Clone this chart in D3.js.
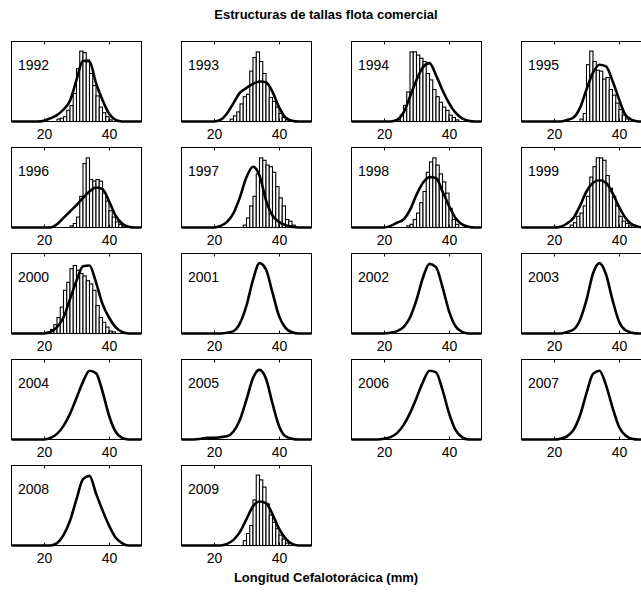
<!DOCTYPE html>
<html><head><meta charset="utf-8">
<script src="https://cdn.jsdelivr.net/npm/d3@7"></script>
<style>body{margin:0;background:#fff}svg{display:block}text{font-family:"Liberation Sans",Arial,sans-serif}</style>
</head><body><svg id="c" width="641" height="599"></svg>
<script>
const title = "Estructuras de tallas flota comercial";
const xLabel = "Longitud Cefalotorácica (mm)";
const years = [1992,1993,1994,1995,1996,1997,1998,1999,2000,2001,2002,2003,2004,2005,2006,2007,2008,2009];
const xTicks = [20, 40];
const curveX = [10,12,14,16,18,20,22,24,26,28,30,32,34,36,38,40,42,44,46,48,50];
const curveValues = [
  [0,0,0,0,0,0.01,0.04,0.08,0.15,0.26,0.52,0.76,0.75,0.48,0.27,0.1,0.02,0,0,0,0],
  [0,0,0,0,0,0,0.02,0.1,0.23,0.36,0.42,0.47,0.5,0.49,0.37,0.18,0.05,0.01,0,0,0],
  [0,0,0,0,0,0,0,0.02,0.11,0.31,0.52,0.68,0.73,0.58,0.39,0.23,0.11,0.04,0.01,0,0],
  [0,0,0,0,0,0,0,0.02,0.05,0.17,0.4,0.61,0.71,0.69,0.51,0.28,0.08,0.02,0,0,0],
  [0,0,0,0,0,0,0,0.04,0.12,0.2,0.28,0.37,0.45,0.5,0.48,0.33,0.15,0.05,0.01,0,0],
  [0,0,0,0,0,0,0.02,0.07,0.18,0.38,0.63,0.76,0.65,0.34,0.15,0.07,0.03,0.01,0,0,0],
  [0,0,0,0,0,0,0.02,0.06,0.1,0.22,0.41,0.56,0.63,0.62,0.45,0.27,0.12,0.04,0.01,0,0],
  [0,0,0,0,0,0,0.01,0.05,0.12,0.27,0.45,0.56,0.59,0.56,0.43,0.26,0.12,0.04,0.01,0,0],
  [0,0,0,0,0,0,0.02,0.08,0.2,0.43,0.66,0.84,0.85,0.64,0.37,0.2,0.08,0.02,0,0,0],
  [0,0,0,0,0,0,0,0.01,0.03,0.13,0.35,0.67,0.88,0.8,0.51,0.22,0.07,0.015,0,0,0],
  [0,0,0,0,0,0,0.01,0.03,0.08,0.2,0.42,0.7,0.87,0.83,0.58,0.28,0.09,0.02,0,0,0],
  [0,0,0,0,0,0,0,0.02,0.05,0.17,0.42,0.75,0.88,0.74,0.42,0.15,0.04,0.01,0,0,0],
  [0,0,0,0,0,0,0.02,0.07,0.17,0.32,0.52,0.72,0.86,0.83,0.6,0.3,0.1,0.02,0,0,0],
  [0,0,0,0.01,0.02,0.02,0.03,0.04,0.1,0.25,0.5,0.77,0.87,0.76,0.45,0.17,0.04,0.01,0,0,0],
  [0,0,0,0,0,0.01,0.03,0.08,0.18,0.33,0.52,0.72,0.86,0.84,0.62,0.33,0.12,0.03,0,0,0],
  [0,0,0,0,0,0,0.01,0.04,0.12,0.3,0.58,0.82,0.86,0.68,0.4,0.16,0.05,0.01,0,0,0],
  [0,0,0,0,0,0,0,0.03,0.13,0.31,0.58,0.83,0.87,0.65,0.44,0.25,0.1,0.03,0,0,0],
  [0,0,0,0,0,0,0,0.02,0.07,0.17,0.33,0.49,0.55,0.53,0.39,0.21,0.09,0.02,0,0,0]
];
const histStart = [24,25,24,28,28,29,27,25,21,null,null,null,null,null,null,null,null,29];
const histValues = [
  [0.03,0.04,0.06,0.14,0.2,0.35,0.66,0.88,0.86,0.77,0.6,0.45,0.32,0.18,0.11,0.06,0.02],
  [0.03,0.07,0.12,0.22,0.31,0.34,0.63,0.8,0.87,0.75,0.6,0.46,0.3,0.25,0.18,0.1,0.05,0.02],
  [0.02,0.08,0.2,0.37,0.87,0.87,0.83,0.79,0.75,0.6,0.52,0.4,0.31,0.24,0.18,0.14,0.08,0.05,0.02],
  [0.03,0.1,0.71,0.88,0.75,0.64,0.63,0.53,0.55,0.4,0.33,0.23,0.15,0.08,0.03],
  [0.02,0.05,0.13,0.39,0.8,0.87,0.6,0.58,0.6,0.58,0.43,0.33,0.21,0.13,0.07,0.04,0.02],
  [0.03,0.12,0.27,0.39,0.67,0.87,0.84,0.78,0.76,0.69,0.51,0.37,0.27,0.1,0.08,0.03],
  [0.02,0.04,0.1,0.18,0.31,0.45,0.69,0.82,0.87,0.78,0.67,0.57,0.43,0.24,0.1,0.04],
  [0.03,0.06,0.14,0.18,0.27,0.39,0.63,0.76,0.87,0.87,0.84,0.65,0.49,0.39,0.27,0.14,0.08,0.05,0.02],
  [0.02,0.05,0.11,0.2,0.33,0.54,0.64,0.81,0.85,0.79,0.75,0.72,0.66,0.62,0.54,0.35,0.2,0.14,0.08,0.03,0.02],
  null,null,null,null,null,null,null,null,
  [0.06,0.15,0.25,0.57,0.88,0.82,0.73,0.52,0.38,0.29,0.21,0.13,0.08,0.03]
];

const svg = d3.select("#c");
const W = 130, H = 80, colStep = 170, rowStep = 106, left0 = 11.5, top0 = 41.5;

svg.append("text").attr("x", 326).attr("y", 19).attr("text-anchor","middle")
  .attr("font-weight","bold").attr("font-size", 13).text(title);
svg.append("text").attr("x", 326).attr("y", 582).attr("text-anchor","middle")
  .attr("font-weight","bold").attr("font-size", 13).text(xLabel);

const x = d3.scaleLinear().domain([10, 50]).range([0, W]);
const y = d3.scaleLinear().domain([0, 1]).range([H, 0]);
const line = d3.line().x((d,i)=>x(curveX[i])).y(d=>y(d)).curve(d3.curveMonotoneX);

years.forEach((yr, i) => {
  const g = svg.append("g").attr("transform", `translate(${left0 + (i%4)*colStep},${top0 + Math.floor(i/4)*rowStep})`);
  const hv = histValues[i];
  if (hv) {
    g.selectAll("rect.bar").data(hv).join("rect").attr("class","bar")
      .attr("x", (d,j)=>x(histStart[i]+j))
      .attr("width", (d,j)=>x(histStart[i]+j+1)-x(histStart[i]+j))
      .attr("y", d=>y(d)).attr("height", d=>y(0)-y(d))
      .attr("fill","#fff").attr("stroke","#000").attr("stroke-width",1.1);
  }
  g.append("path").datum(curveValues[i]).attr("d", line)
    .attr("fill","none").attr("stroke","#000").attr("stroke-width",2.6).attr("stroke-linejoin","round");
  g.append("rect").attr("width",W).attr("height",H).attr("fill","none").attr("stroke","#000").attr("stroke-width",1);
  const xb = d3.axisBottom(x).tickValues(xTicks).tickSizeInner(-3).tickSizeOuter(0).tickPadding(8);
  const ax = g.append("g").attr("transform",`translate(0,${H})`).call(xb);
  ax.select(".domain").remove();
  ax.selectAll("text").attr("font-size",14).attr("fill","#000").style("font-family","'Liberation Sans',Arial,sans-serif");
  const xt = d3.axisTop(x).tickValues(xTicks).tickSizeInner(-3).tickSizeOuter(0).tickFormat("");
  const at = g.append("g").call(xt);
  at.select(".domain").remove();
  g.append("text").attr("x", 6.5).attr("y", 28.5).attr("font-size", 14).text(yr);
});
</script></body></html>
